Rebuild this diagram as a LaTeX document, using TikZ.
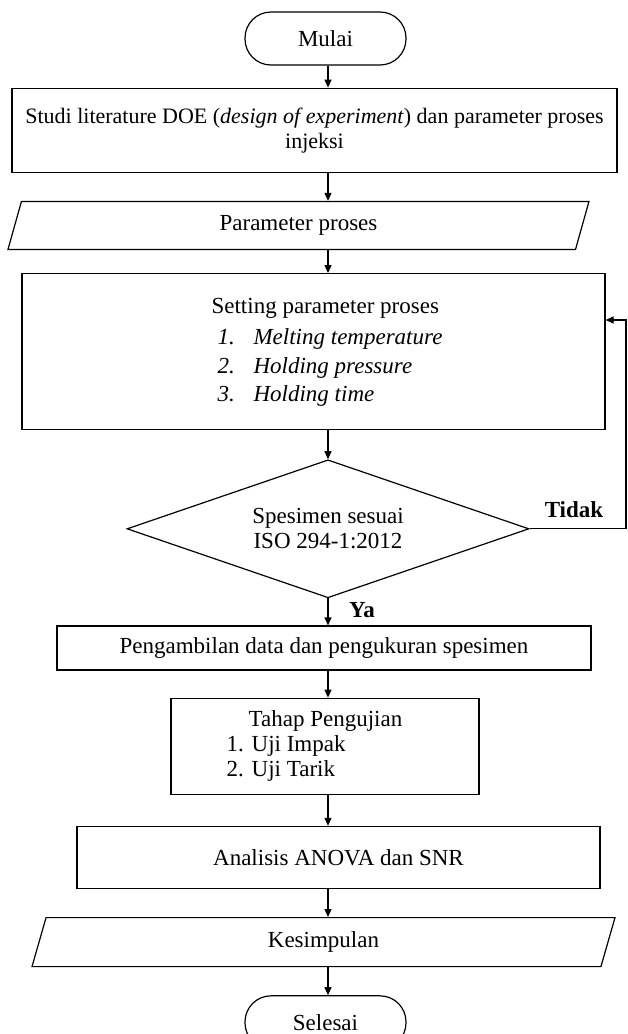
\documentclass[tikz,border=0pt]{standalone}
\usepackage{fontspec}
\setmainfont{Liberation Serif}
\usetikzlibrary{positioning, shapes.geometric, arrows.meta}

\begin{document}
\begin{tikzpicture}[x=1pt, y=-1pt,
      font=\fontsize{23}{25}\selectfont,
      terminal/.style={rectangle, rounded corners=26pt, draw, line width=1.2pt, minimum width=161pt, minimum height=53pt},
      process/.style={rectangle, draw, line width=1.2pt, inner sep=0pt},
      io/.style={trapezium, trapezium left angle=56, trapezium right angle=124, trapezium stretches body,
      draw, line width=1.2pt, inner sep=0pt},
      decision/.style={diamond, aspect=2.91, draw, line width=1.2pt, inner sep=0pt, minimum width=402pt,
      minimum height=138pt, align=center},
      answer/.style={font=\fontsize{23}{25}\selectfont\bfseries},
      flow/.style={-{Triangle[length=8pt, width=7pt]}, line width=1.2pt}
    ]
      \useasboundingbox (0,0) rectangle (628,1034);

      \node[terminal] (mulai) at (325.5, 38.5) {Mulai};
      \node[process, minimum width=605pt, minimum height=84pt, align=center, font=\fontsize{22}{25}\selectfont,
        below=22pt of mulai, xshift=-11pt] (studi)
        {Studi literature DOE (\textit{design of experiment}) dan parameter proses\\ injeksi};
      \node[io, minimum width=581pt, minimum height=48pt, below=28pt of studi, xshift=-16pt] (param) {Parameter proses};
      \node[process, minimum width=583pt, minimum height=156pt, font=\fontsize{23}{28.5}\selectfont,
        below=23pt of param, xshift=15pt] (setting)
        {\hspace{27pt}\begin{tabular}{@{}l@{}}
          Setting parameter proses\\[3pt]
          \hspace*{6pt}\makebox[36pt][l]{\textit{1.}}\textit{Melting temperature}\\
          \hspace*{6pt}\makebox[36pt][l]{\textit{2.}}\textit{Holding pressure}\\
          \hspace*{6pt}\makebox[36pt][l]{\textit{3.}}\textit{Holding time}
        \end{tabular}};
      \node[decision, below=29pt of setting, xshift=14.5pt] (cek) {Spesimen sesuai\\ ISO 294-1:2012};
      \node[process, minimum width=534pt, minimum height=44pt, below=27pt of cek, xshift=-4pt] (ambil)
        {Pengambilan data dan pengukuran spesimen};
      \node[process, minimum width=308pt, minimum height=96pt, below=27pt of ambil, xshift=1pt] (uji)
        {\begin{tabular}{@{}l@{}}
          \hspace*{22pt}Tahap Pengujian\\
          \makebox[25pt][l]{1.}Uji Impak\\
          \makebox[25pt][l]{2.}Uji Tarik
        \end{tabular}\kern21pt\null};
      \node[process, minimum width=523pt, minimum height=62pt, below=31pt of uji, xshift=13.5pt] (anova)
        {Analisis ANOVA dan SNR};
      \node[io, minimum width=583pt, minimum height=49pt, below=28pt of anova, xshift=-15pt] (simpul) {Kesimpulan};
      \node[terminal, below=28pt of simpul, xshift=2pt] (selesai) {Selesai};

      % answers of the check
      \node[answer] (tidak) at (574, 510) {Tidak};
      \node[answer] (ya) at (362, 610) {Ya};

      \foreach \a/\b in {mulai/studi, studi/param, param/setting, setting/cek, cek/ambil,
        ambil/uji, uji/anova, anova/simpul, simpul/selesai}
        \draw[flow] (\a.south -| cek) -- (\b.north -| cek);

      % back to setting when not suitable
      \coordinate (balik) at (626, 320);
      \draw[flow] (cek.east) -| (balik) -- (balik -| setting.east);
    \end{tikzpicture}
\end{document}
